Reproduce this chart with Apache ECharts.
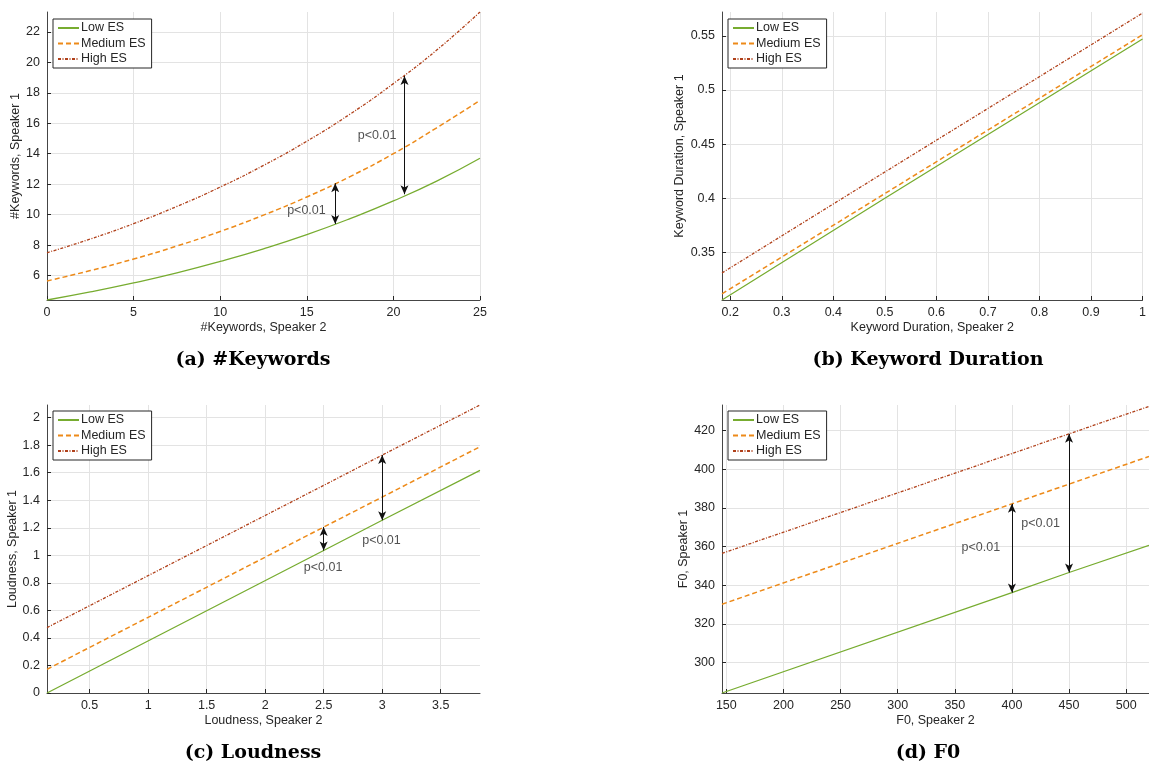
<!DOCTYPE html>
<html>
<head>
<meta charset="utf-8">
<script src="https://cdn.jsdelivr.net/npm/echarts@6/dist/echarts.min.js"></script>
<style>
  html, body { margin: 0; padding: 0; background: #fff; }
  #chart { width: 1149px; height: 767px; }
</style>
</head>
<body>
<div id="chart"></div>
<script>
// (a) #Keywords
const kwX = [0, 2.5, 5, 7.5, 10, 12.5, 15, 17.5, 20, 22.5, 25];
const kwLow = [4.40, 4.93, 5.52, 6.18, 6.93, 7.76, 8.69, 9.74, 10.9, 12.2, 13.7];
const kwMed = [5.65, 6.33, 7.09, 7.94, 8.90, 9.97, 11.16, 12.5, 14.0, 15.7, 17.5];
const kwHigh = [7.50, 8.40, 9.41, 10.54, 11.81, 13.23, 14.82, 16.6, 18.6, 20.8, 23.3];
const kwXTicks = [0, 5, 10, 15, 20, 25];
const kwYTicks = [6, 8, 10, 12, 14, 16, 18, 20, 22];
const kwArrowX = [16.64, 20.64];
const kwArrowFrom = [9.39, 11.34];
const kwArrowTo = [12.06, 19.1];
const kwNoteX = [14.98, 19.06];
const kwNoteY = [10.3, 15.16];

// (b) Keyword Duration
const durX = [0.184, 0.5, 1.0];
const durLow = [0.306, 0.400, 0.547];
const durMed = [0.3117, 0.4043, 0.551];
const durHigh = [0.331, 0.4242, 0.571];
const durXTicks = [0.2, 0.3, 0.4, 0.5, 0.6, 0.7, 0.8, 0.9, 1];
const durYTicks = [0.35, 0.4, 0.45, 0.5, 0.55];

// (c) Loudness
const loudX = [0.136, 2.5, 3, 3.836];
const loudLow = [0, 1.035, 1.255, 1.617];
const loudMed = [0.172, 1.205, 1.423, 1.789];
const loudHigh = [0.475, 1.508, 1.728, 2.092];
const loudXTicks = [0.5, 1, 1.5, 2, 2.5, 3, 3.5];
const loudYTicks = [0, 0.2, 0.4, 0.6, 0.8, 1, 1.2, 1.4, 1.6, 1.8, 2];
const loudArrowX = [2.5, 3];
const loudArrowFrom = [1.035, 1.255];
const loudArrowTo = [1.205, 1.728];
const loudNoteX = [2.495, 2.994];
const loudNoteY = [0.911, 1.11];

// (d) F0
const f0X = [146.2, 400, 450, 520];
const f0Low = [284.3, 336.2, 346.6, 360.6];
const f0Med = [330.2, 382.1, 392.3, 406.6];
const f0High = [356.5, 408.1, 418.3, 432.5];
const f0XTicks = [150, 200, 250, 300, 350, 400, 450, 500];
const f0YTicks = [300, 320, 340, 360, 380, 400, 420];
const f0ArrowX = [400, 450];
const f0ArrowFrom = [336.2, 346.6];
const f0ArrowTo = [382.1, 418.3];
const f0NoteX = [372.8, 425.1];
const f0NoteY = [359.7, 371.7];

const seriesNames = ['Low ES', 'Medium ES', 'High ES'];
const noteText = 'p<0.01';

const FONT = 'Liberation Sans, Arial, Helvetica, sans-serif';
const TXT = '#262626';
const C_LOW = '#77ac30', C_MED = '#ed8a19', C_HIGH = '#b0401a';

function zip(xs, ys) { return xs.map((x, i) => [x, ys[i]]); }

const panels = [
  {
    grid: { left: 47, top: 12, width: 433, height: 288 },
    x: [0, 25], y: [4.4, 23.3], xTicks: kwXTicks, yTicks: kwYTicks,
    xName: '#Keywords, Speaker 2', yName: '#Keywords, Speaker 1', yGap: 24,
    xs: kwX, low: kwLow, med: kwMed, high: kwHigh, smooth: true,
    arrows: { x: kwArrowX, from: kwArrowFrom, to: kwArrowTo },
    notes: { x: kwNoteX, y: kwNoteY },
    legend: { left: 53, top: 19 },
    caption: { text: '(a) #Keywords', x: 253, y: 360 }
  },
  {
    grid: { left: 722, top: 12, width: 428, height: 288 },
    x: [0.184, 1.0], y: [0.306, 0.572], xTicks: durXTicks, yTicks: durYTicks,
    xName: 'Keyword Duration, Speaker 2', yName: 'Keyword Duration, Speaker 1', yGap: 36,
    xs: durX, low: durLow, med: durMed, high: durHigh, smooth: false,
    arrows: null, notes: null,
    legend: { left: 728, top: 19 },
    caption: { text: '(b) Keyword Duration', x: 928, y: 360 }
  },
  {
    grid: { left: 47, top: 405, width: 433, height: 288 },
    x: [0.136, 3.836], y: [0, 2.092], xTicks: loudXTicks, yTicks: loudYTicks,
    xName: 'Loudness, Speaker 2', yName: 'Loudness, Speaker 1', yGap: 28,
    xs: loudX, low: loudLow, med: loudMed, high: loudHigh, smooth: false,
    arrows: { x: loudArrowX, from: loudArrowFrom, to: loudArrowTo },
    notes: { x: loudNoteX, y: loudNoteY },
    legend: { left: 53, top: 411 },
    caption: { text: '(c) Loudness', x: 253, y: 753 }
  },
  {
    grid: { left: 722, top: 405, width: 428, height: 288 },
    x: [146.2, 520], y: [284.3, 433.2], xTicks: f0XTicks, yTicks: f0YTicks,
    xName: 'F0, Speaker 2', yName: 'F0, Speaker 1', yGap: 32,
    xs: f0X, low: f0Low, med: f0Med, high: f0High, smooth: false,
    arrows: { x: f0ArrowX, from: f0ArrowFrom, to: f0ArrowTo },
    notes: { x: f0NoteX, y: f0NoteY },
    legend: { left: 728, top: 411 },
    caption: { text: '(d) F0', x: 928, y: 753 }
  }
];

const grids = [], xAxes = [], yAxes = [], series = [], legends = [], graphics = [];

function axisCommon(ticks) {
  return {
    type: 'value',
    axisLine: { show: true, lineStyle: { color: '#454545', width: 1 } },
    axisTick: { show: true, inside: true, length: 4, customValues: ticks, lineStyle: { color: '#262626' } },
    axisLabel: { customValues: ticks, color: TXT, fontFamily: FONT, fontSize: 12.5 },
    splitLine: { show: true, lineStyle: { color: '#e3e3e3', width: 1 } },
    nameLocation: 'middle',
    nameTextStyle: { color: TXT, fontFamily: FONT, fontSize: 12.5 }
  };
}

panels.forEach((p, i) => {
  grids.push(Object.assign({ containLabel: false }, p.grid));

  const xa = axisCommon(p.xTicks);
  xa.gridIndex = i; xa.min = p.x[0]; xa.max = p.x[1];
  xa.name = p.xName; xa.nameGap = 21;
  xa.axisLabel.margin = 6;
  xAxes.push(xa);

  const ya = axisCommon(p.yTicks);
  ya.gridIndex = i; ya.min = p.y[0]; ya.max = p.y[1];
  ya.name = p.yName; ya.nameGap = p.yGap;
  ya.axisLabel.margin = 7;
  yAxes.push(ya);

  const lowSeries = {
    type: 'line', name: seriesNames[0], xAxisIndex: i, yAxisIndex: i,
    data: zip(p.xs, p.low), symbol: 'none', smooth: p.smooth, silent: true,
    lineStyle: { color: C_LOW, width: 1.3, type: 'solid' }, itemStyle: { color: C_LOW }, z: 3
  };
  if (p.arrows) {
    lowSeries.markLine = {
      silent: true, symbol: ['arrow', 'arrow'], symbolSize: [6, 9],
      label: { show: false }, emphasis: { disabled: true }, animation: false,
      lineStyle: { color: '#111', width: 1, type: 'solid' },
      data: p.arrows.x.map((x, k) => [{ coord: [x, p.arrows.from[k]] }, { coord: [x, p.arrows.to[k]] }])
    };
  }
  series.push(lowSeries);
  series.push({
    type: 'line', name: seriesNames[1], xAxisIndex: i, yAxisIndex: i,
    data: zip(p.xs, p.med), symbol: 'none', smooth: p.smooth, silent: true,
    lineStyle: { color: C_MED, width: 1.5, type: [5, 3] }, itemStyle: { color: C_MED }, z: 3
  });
  series.push({
    type: 'line', name: seriesNames[2], xAxisIndex: i, yAxisIndex: i,
    data: zip(p.xs, p.high), symbol: 'none', smooth: p.smooth, silent: true,
    lineStyle: { color: C_HIGH, width: 1.3, type: [3, 1.5, 1, 1.5] }, itemStyle: { color: C_HIGH }, z: 3
  });
  if (p.notes) {
    series.push({
      type: 'scatter', name: 'note' + i, xAxisIndex: i, yAxisIndex: i,
      data: zip(p.notes.x, p.notes.y), symbolSize: 1, silent: true,
      itemStyle: { color: 'rgba(0,0,0,0)' },
      label: { show: true, position: 'inside', formatter: noteText, color: TXT, fontFamily: FONT, fontSize: 12.5 },
      z: 4
    });
  }

  legends.push({
    data: seriesNames, orient: 'vertical', left: p.legend.left, top: p.legend.top,
    padding: [2, 6, 2, 4], itemGap: 1.5, itemWidth: 21, itemHeight: 10,
    backgroundColor: '#fff', borderColor: '#262626', borderWidth: 1, borderRadius: 0,
    selectedMode: false,
    itemStyle: { opacity: 0 },
    textStyle: { color: TXT, fontFamily: FONT, fontSize: 12.5, lineHeight: 14, padding: [0, 0, 0, -3] }
  });

  graphics.push({
    type: 'text', x: p.caption.x, y: p.caption.y,
    style: {
      text: p.caption.text, fill: '#000', font: 'bold 19px "DejaVu Serif", serif',
      textAlign: 'center', textVerticalAlign: 'middle'
    }
  });
});

const chart = echarts.init(document.getElementById('chart'), null, { renderer: 'canvas' });
chart.setOption({
  animation: false,
  backgroundColor: '#fff',
  grid: grids,
  xAxis: xAxes,
  yAxis: yAxes,
  legend: legends,
  series: series,
  graphic: graphics
});
</script>
</body>
</html>
